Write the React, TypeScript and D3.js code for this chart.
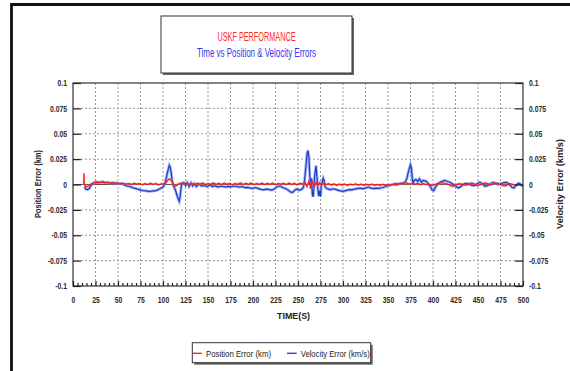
import React, { useRef, useEffect } from "react";
import { select, scaleLinear, axisLeft, axisRight, axisBottom, line, range } from "d3";

// tick values
const xTicks = [0, 25, 50, 75, 100, 125, 150, 175, 200, 225, 250, 275, 300, 325, 350, 375, 400, 425, 450, 475, 500];
const yTicks = [-0.1, -0.075, -0.05, -0.025, 0, 0.025, 0.05, 0.075, 0.1];

// velocity error (km/s)
const velTime = [
  13, 14, 16, 18, 20, 22, 24, 27, 30, 33, 36, 39, 42, 45, 48, 51, 54, 57, 60, 63, 66, 69, 72, 75, 78, 81, 84, 87, 90, 93, 96, 99,
  101, 103, 105, 107, 108, 109, 110, 111, 112, 114, 116, 118, 119, 120, 121, 123, 125, 127, 129, 131, 133, 135, 137, 140, 143,
  146, 149, 152, 155, 158, 161, 164, 167, 170, 173, 176, 179, 182, 185, 188, 191, 194, 197, 200, 203, 206, 209, 212, 215, 218,
  221, 224, 227, 230, 233, 236, 239, 242, 244, 246, 248, 250, 252, 254, 256, 257, 258, 259, 260, 261, 262, 263, 264, 265, 266,
  267, 268, 269, 270, 271, 272, 273, 274, 275, 276, 277, 278, 279, 280, 282, 284, 286, 289, 292, 295, 298, 301, 304, 307, 310,
  313, 316, 319, 322, 325, 328, 331, 334, 337, 340, 343, 346, 349, 352, 355, 358, 361, 364, 367, 369, 371, 373, 375, 376, 377,
  378, 379, 381, 383, 385, 387, 389, 391, 393, 395, 397, 399, 401, 403, 405, 408, 411, 413, 416, 419, 422, 425, 428, 431, 434,
  437, 440, 443, 446, 449, 452, 455, 458, 461, 464, 467, 470, 473, 476, 479, 482, 485, 488, 490, 492, 495, 497, 500,
];
const velError = [
  -0.002, -0.0045, -0.005, -0.004, -0.001, 0.001, 0.0022, 0.0025, 0.002, 0.0028, 0.0018, 0.0022, 0.0012, 0.0018, 0.0014, 0.0008,
  0.0012, -0.0005, -0.0015, -0.002, -0.003, -0.0038, -0.0045, -0.0055, -0.006, -0.0062, -0.0068, -0.0066, -0.0062, -0.0058,
  -0.0045, -0.003, -0.0015, 0.004, 0.012, 0.019, 0.017, 0.012, 0.005, 0.0, -0.002, -0.006, -0.012, -0.0165, -0.012, -0.004, 0.001,
  0.002, -0.001, 0.002, -0.002, 0.0015, -0.0015, 0.001, -0.002, 0.0005, -0.0015, -0.001, -0.002, -0.0005, -0.002, -0.0012,
  -0.0025, -0.0015, -0.002, -0.0025, -0.0018, -0.0022, -0.0015, -0.002, -0.0025, -0.002, -0.003, -0.0028, -0.0035, -0.0038,
  -0.003, -0.004, -0.0048, -0.0052, -0.0045, -0.005, -0.0055, -0.0042, -0.002, -0.0015, -0.003, -0.004, -0.0055, -0.0075,
  -0.0078, -0.006, -0.0045, -0.005, -0.0055, -0.0048, -0.003, 0.002, 0.01, 0.02, 0.03, 0.0335, 0.028, 0.01, -0.004, 0.006, -0.01,
  -0.012, 0.004, 0.012, 0.0185, 0.008, -0.004, -0.0115, -0.006, -0.012, 0.0, 0.003, 0.0062, 0.004, -0.002, -0.004, -0.0045,
  -0.005, -0.0042, -0.0048, -0.0058, -0.0065, -0.0066, -0.0058, -0.005, -0.0052, -0.0045, -0.004, -0.0036, -0.0042, -0.0035,
  -0.0025, -0.0035, -0.004, -0.0036, -0.0038, -0.0032, -0.0025, -0.0015, -0.0005, 0.0, 0.0008, 0.0005, 0.0012, 0.0015, 0.002,
  0.006, 0.014, 0.0195, 0.016, 0.006, 0.0, 0.004, 0.005, 0.003, 0.0055, 0.002, 0.004, 0.0035, 0.003, 0.0, -0.002, -0.0055, -0.006,
  -0.002, 0.0, 0.0025, 0.0035, 0.004, 0.003, 0.0022, 0.0005, -0.0015, -0.0035, -0.002, 0.0005, 0.0012, 0.0005, -0.0008, -0.001,
  0.0008, 0.0023, 0.0005, -0.0018, -0.001, 0.001, 0.002, 0.001, 0.0, 0.001, 0.0018, 0.002, 0.0, -0.003, -0.0035, -0.001, 0.0013,
  0.0005, -0.002,
];

// position error (km)
const posTime = [
  12, 12.2, 12.5, 14, 16, 18, 20, 23, 26, 29, 32, 35, 38, 41, 44, 47, 50, 53, 56, 59, 62, 65, 68, 71, 74, 77, 80, 83, 86, 89, 92,
  95, 98, 101, 103, 105, 107, 109, 111, 113, 115, 117, 120, 123, 126, 129, 132, 135, 138, 141, 144, 147, 150, 153, 156, 159, 162,
  165, 168, 171, 174, 177, 180, 183, 186, 189, 192, 195, 198, 201, 204, 207, 210, 213, 216, 219, 222, 225, 228, 231, 234, 237,
  240, 243, 246, 249, 252, 255, 258, 260, 262, 264, 266, 268, 270, 272, 274, 276, 278, 281, 284, 287, 290, 293, 296, 299, 302,
  305, 308, 311, 314, 317, 320, 323, 326, 329, 332, 335, 338, 341, 344, 347, 350, 353, 356, 359, 362, 365, 368, 371, 374, 377,
  380, 383, 386, 389, 392, 395, 398, 401, 404, 407, 410, 413, 416, 419, 422, 425, 428, 431, 434, 437, 440, 443, 446, 449, 452,
  455, 458, 461, 464, 467, 470, 473, 476, 479, 482, 485, 488, 491, 494, 497, 500,
];
const posError = [
  0.0, 0.011, 0.0, -0.002, -0.002, -0.001, 0.0005, 0.0015, 0.002, 0.0018, 0.0022, 0.0015, 0.002, 0.0012, 0.0018, 0.001, 0.0015,
  0.0008, 0.0012, 0.0005, 0.001, 0.0002, 0.0012, 0.0004, 0.001, -0.0002, 0.0008, 0.0, 0.0012, 0.0003, 0.001, -0.0003, 0.0008,
  0.0005, 0.0015, 0.004, 0.0055, 0.004, 0.0015, -0.002, -0.001, 0.0005, 0.0015, 0.0005, 0.0015, 0.0, 0.0012, -0.0002, 0.0012,
  0.0003, 0.0015, 0.0, 0.001, 0.0002, 0.0015, 0.0003, 0.0012, 0.0, 0.0014, 0.0002, 0.0012, -0.0002, 0.001, 0.0003, 0.0015,
  0.0, 0.0012, 0.0002, 0.0014, -0.0001, 0.001, 0.0003, 0.0013, 0.0, 0.0011, 0.0002, 0.0014, -0.0002, 0.001, 0.0004, 0.0012,
  0.0, 0.0013, 0.0002, 0.0011, -0.0003, 0.0012, 0.0005, 0.002, -0.002, 0.003, -0.0015, 0.0025, -0.002, 0.002, -0.001, 0.0018,
  -0.0005, 0.0012, 0.0, 0.0008, -0.0006, 0.0006, -0.0008, 0.0004, -0.0006, 0.0005, -0.0008, 0.0003, -0.0005, 0.0006, -0.0007,
  0.0003, -0.0009, 0.0002, -0.0006, 0.0003, -0.001, 0.0, -0.0008, 0.0002, -0.001, -0.0002, -0.0008, 0.0, -0.0006, 0.0004, 0.0008,
  0.0018, 0.0012, 0.0005, 0.001, 0.0002, 0.0012, -0.0002, 0.001, 0.0, 0.0008, -0.0012, -0.0005, 0.0006, 0.0012, 0.0018, 0.001,
  0.0004, -0.0008, -0.0018, -0.0005, 0.0008, 0.0006, -0.0004, -0.0006, 0.0004, 0.0016, 0.0004, -0.0012, -0.0004, 0.0008, 0.0016,
  0.0008, -0.0004, 0.0008, 0.0014, 0.001, -0.0005, -0.0015, -0.0008, 0.0008, 0.0003, -0.0008,
];

const W = 570;
const H = 371;
const FONT = "'Liberation Sans', Arial, sans-serif";

function App() {
  const svgRef = useRef<SVGSVGElement>(null);
  const leftRef = useRef<SVGGElement>(null);
  const rightRef = useRef<SVGGElement>(null);
  const bottomRef = useRef<SVGGElement>(null);
  const minorRef = useRef<SVGGElement>(null);

  const x = scaleLinear().domain([0, 500]).range([73, 523]);
  const y = scaleLinear().domain([-0.1, 0.1]).range([286, 83]);
  const fmt = (d: number) => String(+d.toFixed(3));

  useEffect(() => {
    const style = (g: any) => {
      g.select(".domain").remove();
      g.selectAll(".tick line").attr("stroke", "#222").attr("stroke-width", 1.2);
      g.selectAll(".tick text")
        .attr("font-family", FONT)
        .attr("font-size", 8.5)
        .attr("font-weight", "bold")
        .attr("fill", "#2a2a2a");
    };
    select(leftRef.current)
      .call(axisLeft(y).tickValues(yTicks).tickSize(-8).tickPadding(6).tickFormat(fmt as any))
      .call(style);
    select(rightRef.current)
      .call(axisRight(y).tickValues(yTicks).tickSize(-8).tickPadding(6).tickFormat(fmt as any))
      .call(style);
    select(bottomRef.current)
      .call(axisBottom(x).tickValues(xTicks).tickSize(-5).tickPadding(11).tickFormat(fmt as any))
      .call(style);
    const minor = range(0, 501, 5).filter((d) => d % 25 !== 0);
    select(minorRef.current)
      .call(axisBottom(x).tickValues(minor).tickSize(-3).tickFormat(() => ""))
      .call(style);

    // the original uses a narrow face: squeeze every text that has no fixed length
    select(svgRef.current)
      .selectAll("text")
      .each(function (this: any) {
        if (this.getAttribute("textLength")) return;
        const w = this.getComputedTextLength();
        if (w > 0) {
          this.setAttribute("textLength", String(w * 0.8));
          this.setAttribute("lengthAdjust", "spacingAndGlyphs");
        }
      });
  }, []);

  const velLine = line<number>()
    .x((d, i) => x(velTime[i]))
    .y((d) => y(d));
  const posLine = line<number>()
    .x((d, i) => x(posTime[i]))
    .y((d) => y(d));

  return (
    <svg ref={svgRef} width={W} height={H} style={{ position: "absolute", left: 0, top: 0, background: "#fff" }}>
      {/* outer frame */}
      <path d={`M11.5,${H} V4.5 H${W}`} fill="none" stroke="#111" strokeWidth={2.8} />

      {/* title box */}
      <rect x={163} y={18} width={191} height={57} fill="#666" />
      <rect x={161} y={16} width={191} height={57} fill="#fff" stroke="#333" strokeWidth={1} />
      <text x={256.5} y={41} textAnchor="middle" fontFamily={FONT} fontSize={12.5} fill="#ff2a2a"
        textLength={78} lengthAdjust="spacingAndGlyphs">USKF PERFORMANCE</text>
      <text x={256.5} y={56.5} textAnchor="middle" fontFamily={FONT} fontSize={12.5} fill="#3535f0"
        textLength={119} lengthAdjust="spacingAndGlyphs">Time vs Position &amp; Velocity Errors</text>

      {/* plot area */}
      <rect x={73} y={83} width={450} height={203} fill="#fff" />
      {xTicks.filter((d) => d > 0 && d < 500).map((d) => (
        <line key={"gx" + d} x1={x(d)} x2={x(d)} y1={83} y2={286} stroke="#9a9a9a" strokeDasharray="2,2" />
      ))}
      {yTicks.filter((d) => d > -0.1 && d < 0.1 && d !== 0).map((d) => (
        <line key={"gy" + d} x1={73} x2={523} y1={y(d)} y2={y(d)} stroke="#9a9a9a" strokeDasharray="2,2" />
      ))}
      <line x1={73} x2={523} y1={y(0)} y2={y(0)} stroke="#555" strokeWidth={1} />

      {/* series */}
      <path d={velLine(velError) || ""} fill="none" stroke="#6d8cf0" strokeOpacity={0.6} strokeWidth={3} />
      <path d={velLine(velError) || ""} fill="none" stroke="#1a3cc8" strokeWidth={1.2} />
      <path d={posLine(posError) || ""} fill="none" stroke="#ff7a7a" strokeOpacity={0.5} strokeWidth={2.4} />
      <path d={posLine(posError) || ""} fill="none" stroke="#ff1010" strokeWidth={1.1} />

      <rect x={73} y={83} width={450} height={203} fill="none" stroke="#333" strokeWidth={1.2} />

      <g ref={leftRef} transform="translate(73,0)" />
      <g ref={rightRef} transform="translate(523,0)" />
      <g ref={bottomRef} transform="translate(0,286)" />
      <g ref={minorRef} transform="translate(0,286)" />

      {/* axis titles */}
      <text transform="translate(41,184) rotate(-90)" textAnchor="middle" fontFamily={FONT} fontSize={9}
        fontWeight="bold" fill="#222" textLength={68} lengthAdjust="spacingAndGlyphs">Position Error (km)</text>
      <text transform="translate(563,184) rotate(-90)" textAnchor="middle" fontFamily={FONT} fontSize={9}
        fontWeight="bold" fill="#222" textLength={90} lengthAdjust="spacingAndGlyphs">Velocity Error (km/s)</text>
      <text x={293.5} y={319} textAnchor="middle" fontFamily={FONT} fontSize={9} fontWeight="bold" fill="#222"
        textLength={33} lengthAdjust="spacingAndGlyphs">TIME(S)</text>

      {/* legend */}
      <rect x={194.3} y={344.7} width={178.4} height={20} fill="#666" />
      <rect x={192.3} y={342.7} width={178.4} height={20} fill="#fff" stroke="#333" strokeWidth={1} />
      <line x1={193} x2={201.7} y1={353.3} y2={353.3} stroke="#ff1010" strokeWidth={1.3} />
      <text x={206} y={356.5} fontFamily={FONT} fontSize={9.5} fill="#222"
        textLength={65} lengthAdjust="spacingAndGlyphs">Position Error (km)</text>
      <line x1={287} x2={296.7} y1={353.3} y2={353.3} stroke="#1a3cc8" strokeWidth={1.3} />
      <text x={300.7} y={356.5} fontFamily={FONT} fontSize={9.5} fill="#222"
        textLength={69} lengthAdjust="spacingAndGlyphs">Velocity Error (km/s)</text>
    </svg>
  );
}

export default App;
